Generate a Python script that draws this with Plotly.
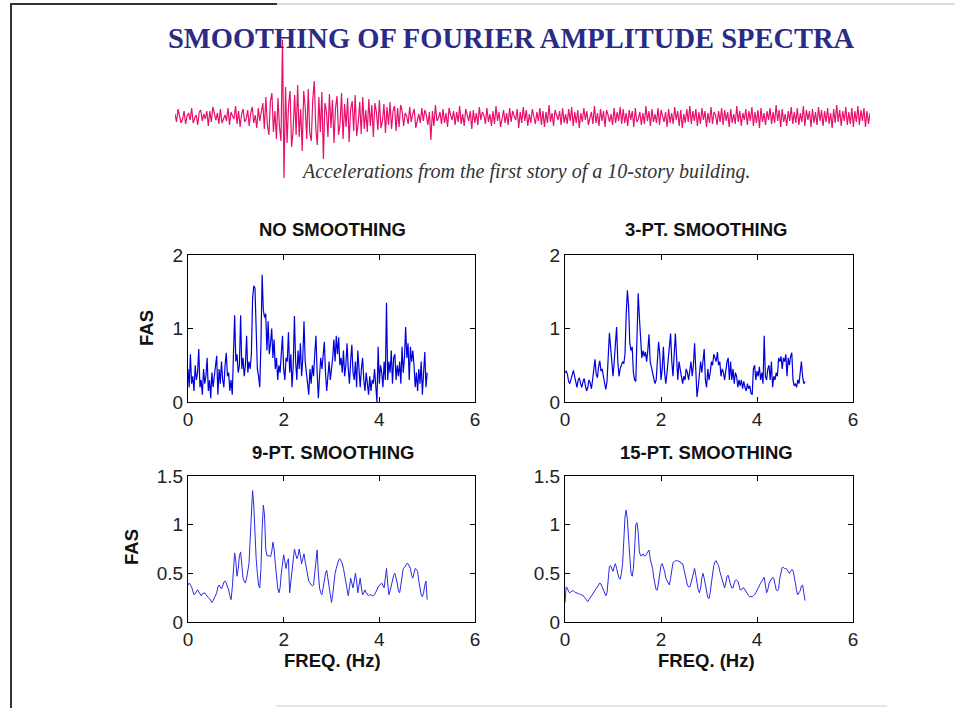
import numpy as np
import plotly.graph_objects as go

# ---------------- data ----------------
F_START, F_END = 0.0, 5.0   # frequency span of every spectrum (Hz)

NO_SMOOTH = [
    0.45, 0.20, 0.65, 0.25, 0.35, 0.15, 0.50, 0.30,
    0.40, 0.72, 0.20, 0.30, 0.10, 0.45, 0.25, 0.35,
    0.60, 0.15, 0.30, 0.05, 0.40, 0.20, 0.35, 0.50,
    0.63, 0.10, 0.45, 0.25, 0.55, 0.30, 0.20, 0.50,
    0.67, 0.35, 0.40, 0.15, 0.30, 0.10, 0.55, 1.18,
    0.55, 0.65, 0.40, 0.50, 1.18, 0.45, 0.60, 0.35,
    0.50, 0.90, 0.40, 0.55, 0.45, 0.65, 1.40, 1.58,
    1.55, 0.95, 0.45, 0.35, 0.20, 0.80, 1.73, 1.25,
    1.15, 1.20, 0.70, 1.10, 0.65, 0.80, 1.00, 0.60,
    0.85, 0.45, 0.60, 0.30, 0.50, 0.40, 0.65, 0.90,
    0.45, 0.30, 0.60, 0.55, 0.95, 0.40, 0.65, 0.20,
    0.50, 1.17, 0.55, 0.30, 0.70, 0.45, 0.80, 0.35,
    0.60, 1.10, 0.55, 0.40, 0.30, 0.10, 0.45, 0.25,
    0.50, 0.35, 0.65, 0.90, 0.40, 0.05, 0.35, 0.60,
    0.45, 0.70, 0.82, 0.40, 0.15, 0.35, 0.55, 0.30,
    0.45, 0.60, 0.85, 0.55, 0.90, 0.65, 0.88, 0.50,
    0.60, 0.40, 0.70, 0.35, 0.50, 0.80, 0.45, 0.25,
    0.55, 0.78, 0.40, 0.30, 0.55, 0.20, 0.70, 0.35,
    0.20, 0.45, 0.60, 0.30, 0.15, 0.40, 0.20, 0.10,
    0.35, 0.15, 0.30, 0.25, 0.45, 0.20, 0.00, 0.75,
    0.25, 0.50, 0.40, 0.20, 0.55, 0.30, 1.35, 0.30,
    0.55, 0.40, 0.70, 0.25, 0.60, 0.65, 0.30, 0.50,
    0.35, 0.55, 0.25, 0.75, 0.40, 0.60, 1.02, 0.60,
    0.80, 0.30, 0.75, 0.55, 0.70, 0.50, 0.20, 0.40,
    0.15, 0.45, 0.25, 0.55, 0.10, 0.40, 0.68, 0.20,
    0.40,
]

PT3 = [
    0.40, 0.42, 0.38, 0.28, 0.25, 0.30, 0.36, 0.43,
    0.35, 0.25, 0.20, 0.30, 0.33, 0.25, 0.20, 0.28,
    0.32, 0.22, 0.15, 0.20, 0.30, 0.26, 0.18, 0.30,
    0.42, 0.58, 0.38, 0.33, 0.48, 0.56, 0.42, 0.45,
    0.35, 0.25, 0.17, 0.28, 0.55, 0.94, 0.75, 0.50,
    0.35, 0.55, 0.85, 1.02, 0.55, 0.35, 0.45, 0.50,
    0.55, 0.52, 0.65, 1.20, 1.52, 1.30, 0.80, 0.70,
    0.75, 0.40, 0.30, 0.28, 0.90, 1.48, 1.15, 0.80,
    0.60, 0.70, 0.62, 0.68, 0.55, 0.70, 0.92, 0.55,
    0.45, 0.40, 0.32, 0.25, 0.30, 0.50, 0.82, 0.65,
    0.30, 0.45, 0.75, 0.40, 0.25, 0.40, 0.55, 0.70,
    0.93, 0.55, 0.35, 0.65, 0.93, 0.60, 0.30, 0.55,
    0.45, 0.40, 0.25, 0.35, 0.30, 0.45, 0.40, 0.30,
    0.45, 0.55, 0.35, 0.50, 0.80, 0.40, 0.07, 0.20,
    0.35, 0.55, 0.40, 0.55, 0.72, 0.30, 0.20, 0.45,
    0.30, 0.40, 0.55, 0.50, 0.65, 0.60, 0.55, 0.68,
    0.50, 0.55, 0.35, 0.45, 0.40, 0.30, 0.45, 0.55,
    0.60, 0.30, 0.55, 0.30, 0.45, 0.25, 0.40, 0.35,
    0.20, 0.30, 0.22, 0.30, 0.18, 0.28, 0.20, 0.15,
    0.25, 0.18, 0.22, 0.12, 0.10, 0.45, 0.50, 0.30,
    0.42, 0.35, 0.48, 0.30, 0.40, 0.25, 0.90, 0.35,
    0.30, 0.45, 0.50, 0.30, 0.55, 0.20, 0.35, 0.30,
    0.40, 0.35, 0.60, 0.55, 0.62, 0.45, 0.60, 0.55,
    0.65, 0.35, 0.60, 0.50, 0.62, 0.67, 0.30, 0.22,
    0.25, 0.20, 0.30, 0.25, 0.40, 0.55, 0.35, 0.25,
    0.28,
]

PT9 = [
    0.38, 0.40, 0.38, 0.36, 0.32, 0.28, 0.29, 0.32,
    0.33, 0.31, 0.28, 0.27, 0.29, 0.30, 0.30, 0.28,
    0.26, 0.25, 0.24, 0.21, 0.20, 0.22, 0.25, 0.27,
    0.30, 0.36, 0.38, 0.36, 0.34, 0.37, 0.41, 0.42,
    0.40, 0.36, 0.33, 0.27, 0.23, 0.35, 0.55, 0.71,
    0.62, 0.47, 0.55, 0.68, 0.72, 0.55, 0.45, 0.42,
    0.40, 0.45, 0.55, 0.60, 0.85, 1.20, 1.35, 1.20,
    0.90, 0.65, 0.50, 0.38, 0.35, 0.55, 0.95, 1.20,
    1.10, 0.75, 0.68, 0.68, 0.68, 0.67, 0.72, 0.82,
    0.75, 0.60, 0.45, 0.35, 0.30, 0.35, 0.50, 0.62,
    0.69, 0.62, 0.55, 0.62, 0.65, 0.30, 0.40, 0.50,
    0.62, 0.75, 0.70, 0.65, 0.68, 0.75, 0.68, 0.60,
    0.65, 0.70, 0.62, 0.55, 0.48, 0.42, 0.40, 0.38,
    0.37, 0.38, 0.50, 0.68, 0.74, 0.50, 0.35, 0.30,
    0.28, 0.35, 0.45, 0.50, 0.53, 0.45, 0.35, 0.25,
    0.20, 0.28, 0.40, 0.50, 0.55, 0.60, 0.64, 0.65,
    0.63, 0.60, 0.55, 0.48, 0.40, 0.30, 0.27, 0.35,
    0.45, 0.40, 0.35, 0.42, 0.50, 0.42, 0.30, 0.38,
    0.45, 0.35, 0.28, 0.30, 0.33, 0.30, 0.28, 0.27,
    0.28, 0.28, 0.27, 0.27, 0.28, 0.30, 0.33, 0.36,
    0.38, 0.39, 0.40, 0.38, 0.35, 0.45, 0.55, 0.40,
    0.28, 0.32, 0.38, 0.45, 0.48, 0.50, 0.46, 0.40,
    0.32, 0.30, 0.38, 0.48, 0.55, 0.56, 0.58, 0.60,
    0.60, 0.58, 0.55, 0.48, 0.45, 0.50, 0.55, 0.54,
    0.52, 0.42, 0.35, 0.28, 0.26, 0.30, 0.38, 0.42,
    0.23,
]

PT15 = [
    0.20, 0.36, 0.35, 0.31, 0.30, 0.31, 0.32, 0.32,
    0.31, 0.30, 0.30, 0.29, 0.29, 0.28, 0.28, 0.27,
    0.26, 0.24, 0.22, 0.21, 0.23, 0.25, 0.27, 0.29,
    0.31, 0.33, 0.35, 0.36, 0.38, 0.40, 0.39, 0.36,
    0.34, 0.30, 0.27, 0.30, 0.45, 0.57, 0.58, 0.55,
    0.52, 0.57, 0.60, 0.55, 0.48, 0.45, 0.44, 0.50,
    0.60, 0.85, 1.08, 1.15, 1.05, 0.85, 0.62, 0.50,
    0.47, 0.55, 0.75, 1.00, 1.02, 0.92, 0.72, 0.68,
    0.68, 0.70, 0.68, 0.68, 0.70, 0.73, 0.74, 0.65,
    0.60, 0.55, 0.45, 0.38, 0.33, 0.33, 0.40, 0.50,
    0.58, 0.60, 0.56, 0.52, 0.45, 0.42, 0.40, 0.38,
    0.45, 0.55, 0.61, 0.62, 0.63, 0.63, 0.63, 0.62,
    0.62, 0.60, 0.60, 0.55, 0.48, 0.42, 0.38, 0.36,
    0.36, 0.40, 0.45, 0.52, 0.55, 0.48, 0.40, 0.33,
    0.30, 0.35, 0.45, 0.50, 0.45, 0.38, 0.30, 0.25,
    0.24, 0.30, 0.40, 0.50, 0.58, 0.62, 0.63, 0.60,
    0.58, 0.52, 0.47, 0.43, 0.38, 0.35, 0.40, 0.47,
    0.48, 0.42, 0.38, 0.35, 0.35, 0.40, 0.43, 0.43,
    0.42, 0.38, 0.33, 0.33, 0.35, 0.35, 0.33, 0.30,
    0.28, 0.27, 0.26, 0.26, 0.26, 0.27, 0.28, 0.30,
    0.33, 0.36, 0.38, 0.40, 0.42, 0.44, 0.46, 0.38,
    0.30, 0.33, 0.40, 0.42, 0.44, 0.46, 0.45, 0.38,
    0.33, 0.32, 0.34, 0.45, 0.53, 0.56, 0.56, 0.55,
    0.55, 0.54, 0.52, 0.50, 0.52, 0.54, 0.53, 0.48,
    0.40, 0.32, 0.28, 0.30, 0.32, 0.37, 0.38, 0.30,
    0.22,
]

# acceleration record (arbitrary units) drawn across the top
WAVE_PRE = [
    0.3, -0.5, 0.8, 0.2, -0.6, -0.2, 0.6, -0.7, 0.1, 0.4,
    -0.3, 0.9, -0.6, -0.1, 0.2, -0.8, 0.5, 0.7, -0.4, 0.3,
    -0.2, 0.6, -0.9, 0.6, -0.5, 1.0, 0.2, -0.3, 0.4, -0.7,
    0.8, -0.6, -0.2, 0.2, -0.4, 0.9, -0.8, 0.5, 0.1, -0.2,
    1.1, -0.7, 0.6, -1.0, 0.3, 0.8, -0.5, -0.2, 0.7, -0.9,
    0.4, 1.0, -0.6, 0.2, -1.1, 0.9, -0.4, 0.6,
]
WAVE_STRONG = [
    1.4, -1.2, 2.0, -0.8, -1.8, 1.6, 2.4, -1.5, 0.6, -2.2,
    1.9, -1.0, -2.4, 7.7, -6.1, 3.0, -2.6, 1.2, 2.6, -3.0,
    -1.4, 2.2, -1.8, 3.2, -2.0, 0.8, -3.4, 2.6, 1.0, -2.2,
    2.8, -1.6,
]
WAVE_DECAY = [
    -2.4, 1.8, 3.6, -1.2, -2.8, 2.0, -1.5, 2.5, -4.2, 1.4,
    0.6, -2.0, 2.3, -1.1, 1.7, -2.6, 0.9, 2.1, -1.8, -0.7,
    2.4, -2.2, 1.3, -1.0, 1.9, -2.5, 0.8, 1.6, -1.4, 2.2,
    -1.9, -0.6, 1.5, -1.7, 2.0, -1.2, 0.7, -1.5, 1.8, -0.9,
    1.2, -2.0, 1.4, 0.5, -1.3, 1.7, -1.1, -0.4, 1.3, -1.6,
    1.0, -0.8, 1.5, -1.2, 0.6, 1.1, -1.4, 0.9, -1.0, 1.2,
]
WAVE_CODA = [
    0.6, -0.9, 0.4, 0.1, -0.7, 1.0, -0.5, 0.3, 0.8, -1.1,
    -0.2, 0.3, -0.6, 0.9, -0.4, 0.7, 0.2, -0.8, 0.5, -2.3,
    0.6, -0.9, 1.2, -0.4, -0.1, 0.5, -0.7, 0.8, -0.6, 0.4,
    -1.0, 0.9, 0.2, -0.3, 0.6, -0.8, 0.5, -0.5, 1.1, -0.7,
    0.3, -0.9, 0.8, 0.1, -0.4, 0.6, -1.2, 0.7, -0.6, 0.4,
    -0.8, 1.0, -0.3, 0.5, 0.2, -0.7, 0.9, -0.5, 0.3, -0.9,
    0.6, -0.7, 1.1, -0.4, 0.5, -1.0, -0.2, 0.7, -0.6, 0.4,
    -0.8, 0.9, -0.5, 0.6, 0.1, -0.3, 0.8, -1.1, 0.5, -0.6,
    1.0, -0.4, 0.7, -0.9, 0.3, -0.6, 0.8, 0.2, -0.7, 0.5,
    -0.4, 0.9, -0.8, 0.6, -1.0, 0.5, -0.6, 1.2, -0.5, 0.4,
    -0.9, 0.7, 0.1, -0.3, 0.6, -0.8, 0.9, -0.6, 0.3, -0.7,
    0.8, -0.4, 1.0, -0.9, 0.5, -0.6, 0.7, -1.1, 0.4, -0.5,
    0.9, -0.3, 0.6, -0.8, -0.1, 0.5, -0.7, 1.1, -0.6, 0.4,
    -0.9, 0.8, -0.4, 0.6, -1.0, 0.7, 0.2, -0.5, 0.3, -0.8,
    0.9, -0.6, 0.5, -0.4, 1.0, -0.7, 0.8, -0.6, 0.4, -0.9,
    0.7, -0.3, 0.6, -1.0, 0.9, -0.5, -0.2, 0.5, -0.8, 0.4,
    -0.7, 1.1, -0.4, 0.6, -0.9, 0.8, -0.5, 0.3, -0.6, 0.9,
    -0.8, 0.7, 0.1, -0.5, 0.5, -1.0, 0.8, -0.6, 0.4, -0.7,
    1.0, -0.3, 0.6, -0.9, 0.7, -1.1, 0.3, -0.6, 0.8, -0.5,
    1.1, -0.7, 0.6, -0.4, 0.8, -0.9, 0.5, -0.7, 0.9, -0.3,
    0.6, -1.0, 0.4, -0.6, 1.0, -0.7, 0.5, 0.2, -0.8, 0.6,
    -0.5, 0.9, -0.8, 0.7, -0.4, 0.5, -1.0, 0.8, -0.6, 0.3,
    -0.7, 1.1, -0.5, 0.6, -0.9, 0.4, -0.3, 0.8, -0.8, 0.6,
    -0.4, 1.0, -0.9, 0.5, -0.6, 0.7, -1.1, 0.9, -0.5, 0.4,
    -0.8, 0.6, -0.3, 0.9, -0.7, 0.5, -0.6, 1.2, -0.4, 0.7,
    -1.0, 0.8, -0.5, 0.3, -0.9, 0.6, -0.4, 1.0, -0.7, 0.5,
    -0.6, 0.9, -0.8, 0.4, -0.5, 1.1, -0.9, 0.7, -0.3, 0.6,
    -1.0, 0.8, -0.6, 0.5, -0.8, 1.0, -0.4, 0.7, -0.9, 0.6,
    -0.5, 0.9, -0.7, 0.4, -1.1, 0.8, -0.6, 1.2, -0.5, 0.7,
    -0.9, 0.6, -0.4, 1.0, -0.8, 0.5, -0.7, 0.9, -1.0, 0.6,
    -0.5, 1.1, -0.8, 0.7, -0.4, 0.9, -1.0, 0.6, -0.7, 0.4,
]
WAVE = WAVE_PRE + WAVE_STRONG + WAVE_DECAY + WAVE_CODA
WAVE_DURATION = 40.0  # seconds

PANEL_TITLES = ["NO SMOOTHING", "3-PT. SMOOTHING", "9-PT. SMOOTHING", "15-PT. SMOOTHING"]
X_TICKS = [0, 2, 4, 6]
Y_TICKS_TOP = [0, 1, 2]
Y_TICKS_BOTTOM = [0, 0.5, 1, 1.5]
Y_TICKTEXT_BOTTOM = ["0", "0.5", "1", "1.5"]

# ---------------- layout helpers ----------------
W, H = 955, 708


def px(x):
    return x / W


def py(y):
    return 1 - y / H


def freq(vals):
    return np.linspace(F_START, F_END, len(vals))


TICKFONT = dict(family="Liberation Sans, Arial, sans-serif", size=19, color="#222")
LABFONT = dict(family="Liberation Sans, Arial, sans-serif", size=18.5, color="#111")


def xax(x0, x1, anchor):
    return dict(domain=[px(x0), px(x1)], anchor=anchor, range=[0, 6],
                tickvals=X_TICKS, ticks="inside", ticklen=5, tickcolor="#000",
                mirror="ticks", showline=True, linecolor="#000", linewidth=1,
                showgrid=False, zeroline=False, tickfont=TICKFONT,
                automargin=False)


def yax(y_top, y_bot, anchor, rng, tv, tt=None):
    d = dict(domain=[py(y_bot), py(y_top)], anchor=anchor, range=rng,
             tickvals=tv, ticks="inside", ticklen=5, tickcolor="#000",
             mirror="ticks", showline=True, linecolor="#000", linewidth=1,
             showgrid=False, zeroline=False, tickfont=TICKFONT,
             automargin=False)
    if tt is not None:
        d["ticktext"] = tt
    return d


fig = go.Figure()

# waveform
fig.add_trace(go.Scatter(x=np.linspace(0, WAVE_DURATION, len(WAVE)), y=WAVE,
                         mode="lines", line=dict(color="#e8106a", width=1.2),
                         xaxis="x5", yaxis="y5", hoverinfo="skip"))

series = [NO_SMOOTH, PT3, PT9, PT15]
colors = ["#0000dd", "#0000dd", "#2a2ae6", "#2a2ae6"]
widths = [1.2, 1.2, 1.0, 1.0]
for i, (vals, c, w) in enumerate(zip(series, colors, widths)):
    k = "" if i == 0 else str(i + 1)
    fig.add_trace(go.Scatter(x=freq(vals), y=vals, mode="lines",
                             line=dict(color=c, width=w),
                             xaxis="x" + k, yaxis="y" + k))

LX = (188, 475)
RX = (565, 853)
TY = (255, 402)
BY = (476, 622)

fig.update_layout(
    width=W, height=H, autosize=False,
    margin=dict(l=0, r=0, t=0, b=0),
    paper_bgcolor="white", plot_bgcolor="white",
    showlegend=False,
    xaxis=xax(*LX, "y"), yaxis=yax(TY[0], TY[1], "x", [0, 2], Y_TICKS_TOP),
    xaxis2=xax(*RX, "y2"), yaxis2=yax(TY[0], TY[1], "x2", [0, 2], Y_TICKS_TOP),
    xaxis3=xax(*LX, "y3"), yaxis3=yax(BY[0], BY[1], "x3", [0, 1.5], Y_TICKS_BOTTOM, Y_TICKTEXT_BOTTOM),
    xaxis4=xax(*RX, "y4"), yaxis4=yax(BY[0], BY[1], "x4", [0, 1.5], Y_TICKS_BOTTOM, Y_TICKTEXT_BOTTOM),
    xaxis5=dict(domain=[px(175), px(870)], anchor="y5", visible=False,
                range=[0, WAVE_DURATION]),
    yaxis5=dict(domain=[py(185), py(35)], anchor="x5", visible=False,
                range=[-6.8, 8.2]),
)

ann = []
# main title
ann.append(dict(text="<b>SMOOTHING OF FOURIER AMPLITUDE SPECTRA</b>",
                x=px(511), y=py(38), xref="paper", yref="paper",
                showarrow=False, xanchor="center", yanchor="middle",
                font=dict(family="Liberation Serif, Times New Roman, serif",
                          size=28.5, color="#2b2b85")))
ann.append(dict(text="<i>Accelerations from the first story of a 10-story building.</i>",
                x=px(526), y=py(171), xref="paper", yref="paper",
                showarrow=False, xanchor="center", yanchor="middle",
                font=dict(family="Liberation Serif, Times New Roman, serif",
                          size=20, color="#333")))
# panel titles
for t, (cx, cy) in zip(PANEL_TITLES, [(332, 229), (706, 229), (333, 452), (706, 452)]):
    ann.append(dict(text="<b>%s</b>" % t, x=px(cx), y=py(cy), xref="paper",
                    yref="paper", showarrow=False, xanchor="center",
                    yanchor="middle", font=LABFONT))
# axis labels
for cx, cy in [(147, 328), (131, 547)]:
    ann.append(dict(text="<b>FAS</b>", x=px(cx), y=py(cy), xref="paper",
                    yref="paper", showarrow=False, textangle=-90,
                    xanchor="center", yanchor="middle", font=LABFONT))
for cx in (332, 706):
    ann.append(dict(text="<b>FREQ. (Hz)</b>", x=px(cx), y=py(660), xref="paper",
                    yref="paper", showarrow=False, xanchor="center",
                    yanchor="middle", font=LABFONT))
fig.update_layout(annotations=ann)

# page frame decorations
fig.update_layout(shapes=[
    dict(type="line", xref="paper", yref="paper", x0=px(11), x1=px(11),
         y0=py(3), y1=py(708), line=dict(color="#333", width=2)),
    dict(type="line", xref="paper", yref="paper", x0=px(10), x1=px(277),
         y0=py(4), y1=py(4), line=dict(color="#333", width=2)),
    dict(type="line", xref="paper", yref="paper", x0=px(277), x1=px(955),
         y0=py(4), y1=py(4), line=dict(color="#bbb", width=1)),
    dict(type="line", xref="paper", yref="paper", x0=px(276), x1=px(887),
         y0=py(706), y1=py(706), line=dict(color="#ccc", width=1)),
])

fig.write_html("out.html")
